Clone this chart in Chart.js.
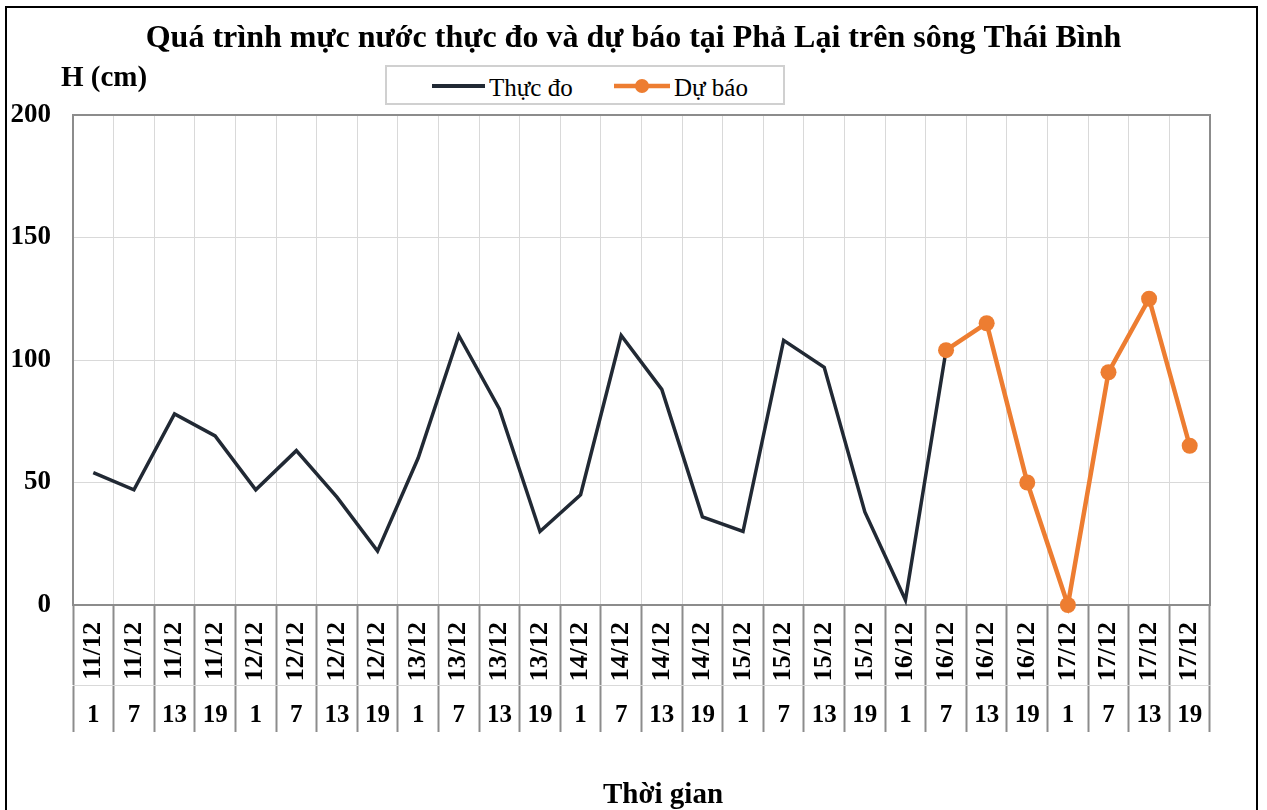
<html>

<head>
    <script src="https://cdn.jsdelivr.net/npm/chart.js"></script>
    <style>
        body { margin: 0; background: #fff; font-family: 'Liberation Serif', 'Times New Roman', serif; }
        #wrap { position: relative; width: 1267px; height: 810px; overflow: hidden; }
        #frame { position: absolute; left: 5px; top: 6px; width: 1249px; height: 840px; border: 2.5px solid #000; pointer-events: none; }
        #myChart { position: absolute; left: 0; top: 0; }
        .lbl { position: absolute; font-weight: bold; color: #000; white-space: nowrap; line-height: 1; }
        #legend { position: absolute; left: 385px; top: 65px; width: 396px; height: 36px; border: 2px solid #d0d0d0; background: #fff; }
        #legend span { position: absolute; top: 8px; font-size: 25px; line-height: 1; color: #000; }
        #legend svg { position: absolute; top: 9px; }
    </style>
</head>

<body>
    <div id="wrap">
        <canvas id="myChart" width="1267" height="810"></canvas>
        <div class="lbl" style="left: 61px; top: 62px; font-size: 29px;">H (cm)</div>
        <div class="lbl" style="left: 603px; top: 779px; font-size: 29px;">Thời gian</div>
        <div id="legend">
            <svg width="60" height="20" style="left: 43px;"><line x1="2" y1="10" x2="55" y2="10" stroke="#212934" stroke-width="4" /></svg>
            <span style="left: 102px;">Thực đo</span>
            <svg width="60" height="20" style="left: 225px;"><line x1="2" y1="10" x2="58" y2="10" stroke="#ed7d31" stroke-width="4.5" /><circle cx="30" cy="10" r="7" fill="#ed7d31" /></svg>
            <span style="left: 287px;">Dự báo</span>
        </div>
        <div id="frame"></div>
    </div>

    <script>
        // du lieu doc tu hinh
        const dates = ['11/12', '11/12', '11/12', '11/12', '12/12', '12/12', '12/12', '12/12',
            '13/12', '13/12', '13/12', '13/12', '14/12', '14/12', '14/12', '14/12',
            '15/12', '15/12', '15/12', '15/12', '16/12', '16/12', '16/12', '16/12',
            '17/12', '17/12', '17/12', '17/12'];
        const hours = ['1', '7', '13', '19', '1', '7', '13', '19', '1', '7', '13', '19', '1', '7',
            '13', '19', '1', '7', '13', '19', '1', '7', '13', '19', '1', '7', '13', '19'];
        const thucDo = [54, 47, 78, 69, 47, 63, 44, 22, 60, 110, 80, 30, 45, 110, 88, 36, 30, 108, 97, 38, 2, 104,
            null, null, null, null, null, null];
        const duBao = [null, null, null, null, null, null, null, null, null, null, null, null, null, null,
            null, null, null, null, null, null, null, 104, 115, 50, 0, 95, 125, 65];
        const yTicks = [0, 50, 100, 150, 200];

        const serif = "'Liberation Serif', 'Times New Roman', serif";
        Chart.defaults.font.family = serif;
        Chart.defaults.color = '#000';

        // khung xam quanh vung ve
        const plotFrame = {
            id: 'plotFrame',
            beforeDatasetsDraw(chart) {
                const a = chart.chartArea;
                const c = chart.ctx;
                c.save();
                c.strokeStyle = '#8c8c8c';
                c.lineWidth = 2;
                c.strokeRect(a.left, a.top, a.right - a.left, a.bottom - a.top);
                c.restore();
            }
        };

        const ctx = document.getElementById('myChart').getContext('2d');
        const myChart = new Chart(ctx, {
            type: 'line',
            data: {
                labels: dates,
                datasets: [
                    {
                        label: 'Dự báo',
                        data: duBao,
                        borderColor: '#ed7d31',
                        backgroundColor: '#ed7d31',
                        borderWidth: 4.5,
                        pointRadius: 8,
                        pointBorderWidth: 0,
                        pointBackgroundColor: '#ed7d31',
                        tension: 0,
                        clip: false,
                        order: 0
                    },
                    {
                        label: 'Thực đo',
                        data: thucDo,
                        borderColor: '#212934',
                        borderWidth: 3.5,
                        pointRadius: 0,
                        tension: 0,
                        clip: false,
                        order: 1
                    }
                ]
            },
            options: {
                responsive: false,
                animation: false,
                layout: { padding: { left: 0, right: 0, top: 0, bottom: 78 } },
                plugins: {
                    legend: { display: false },
                    tooltip: { enabled: false },
                    title: {
                        display: true,
                        text: 'Quá trình mực nước thực đo và dự báo tại Phả Lại trên sông Thái Bình',
                        color: '#000',
                        font: { size: 32, weight: 'bold' },
                        padding: { top: 20, bottom: 56.6 }
                    }
                },
                scales: {
                    x: {
                        position: 'bottom',
                        offset: true,
                        grid: { offset: true, color: '#d9d9d9', tickColor: '#8c8c8c', tickLength: 80, tickWidth: 2 },
                        border: { color: '#8c8c8c', width: 2 },
                        ticks: {
                            autoSkip: false, minRotation: 90, maxRotation: 90, padding: -63,
                            font: { size: 26, weight: 'bold' }, color: '#000'
                        },
                        afterFit: s => { s.height = 80; }
                    },
                    x2: {
                        type: 'category',
                        labels: hours,
                        position: 'bottom',
                        offset: true,
                        grid: { offset: true, drawOnChartArea: false, tickColor: '#8c8c8c', tickLength: 47, tickWidth: 2 },
                        border: { color: '#d9d9d9', width: 1 },
                        ticks: {
                            autoSkip: false, minRotation: 0, maxRotation: 0, padding: -31,
                            font: { size: 25, weight: 'bold' }, color: '#000'
                        },
                        afterFit: s => { s.height = 47; }
                    },
                    y: {
                        min: 0,
                        max: 200,
                        afterBuildTicks: s => { s.ticks = yTicks.map(v => ({ value: v })); },
                        grid: { color: '#d9d9d9', drawTicks: false },
                        border: { color: '#8c8c8c', width: 2 },
                        ticks: { padding: 22, font: { size: 27, weight: 'bold' }, color: '#000' },
                        afterFit: s => { s.width = 73; }
                    },
                    // truc phai rong, chi de giu khoang trong ben phai
                    yRight: {
                        position: 'right',
                        grid: { drawOnChartArea: false, drawTicks: false },
                        border: { display: false },
                        ticks: { display: false },
                        afterFit: s => { s.width = 57; }
                    }
                }
            },
            plugins: [plotFrame]
        });
    </script>

</body>

</html>
